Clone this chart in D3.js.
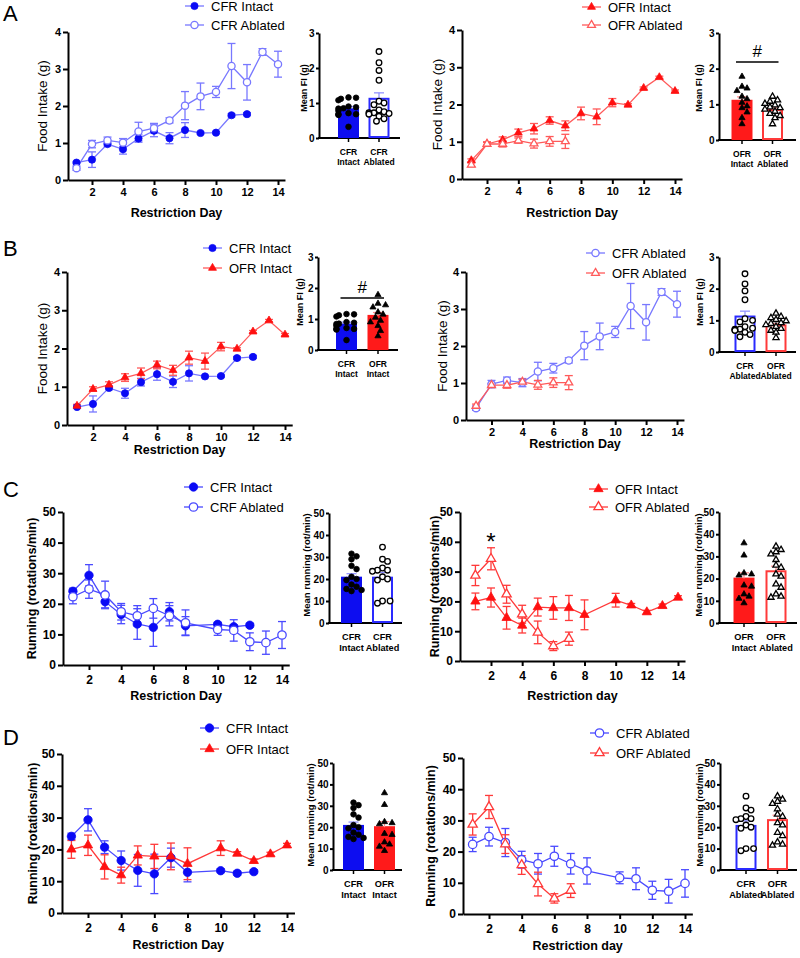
<!DOCTYPE html>
<html><head><meta charset="utf-8">
<script src="https://cdn.jsdelivr.net/npm/d3@7"></script>
<style>body{margin:0;background:#fff} svg{display:block} text{font-family:'Liberation Sans',Arial,sans-serif}</style>
</head><body><svg id="c" width="800" height="958"></svg>
<script>
// ---------------- DATA ----------------
const xTickDays = [2,4,6,8,10,12,14];
const foodTicks = [0,1,2,3,4];
const fiTicks = [0,1,2,3];
const runTicks = [0,10,20,30,40,50];

const daysFood12 = [1,2,3,4,5,6,7,8,9,10,11,12];
const daysFood14 = [1,2,3,4,5,6,7,8,9,10,11,12,13,14];
const daysFood7 = [1,2,3,4,5,6,7];
const daysRun12 = [1,2,3,4,5,6,7,8,10,11,12];
const daysRun14 = [1,2,3,4,5,6,7,8,10,11,12,13,14];
const daysRun7 = [1,2,3,4,5,6,7];

const foodCfrIntact = [0.47,0.55,0.97,0.83,1.12,1.33,1.13,1.35,1.27,1.28,1.75,1.78];
const foodCfrIntactErr = [0.03,0.21,0.05,0.13,0.10,0.16,0.15,0.20,0.03,0.03,0.04,0.04];
const foodCfrAblated = [0.32,0.97,1.07,1.01,1.31,1.40,1.61,2.01,2.26,2.38,3.08,2.64,3.46,3.13];
const foodCfrAblatedErr = [0.06,0.10,0.09,0.11,0.25,0.13,0.07,0.38,0.36,0.15,0.61,0.48,0.09,0.35];
const foodOfrIntact = [0.50,0.94,1.05,1.24,1.35,1.57,1.43,1.76,1.67,2.05,1.99,2.44,2.73,2.36];
const foodOfrIntactErr = [0.04,0.06,0.08,0.10,0.14,0.10,0.13,0.17,0.21,0.11,0.03,0.03,0.03,0.03];
const foodOfrAblated = [0.38,0.94,0.94,1.03,0.95,1.01,1.01];
const foodOfrAblatedErr = [0.05,0.04,0.08,0.07,0.12,0.13,0.19];

const runCfrIntact = [24.1,29.3,20.7,16.5,13.4,12.3,17.4,12.8,13.3,12.5,13.0];
const runCfrIntactErr = [1.0,3.5,2.0,3.0,5.0,6.2,3.0,3.0,0.6,0.6,0.6];
const runCfrAblated = [22.3,24.8,22.9,17.4,16.1,18.5,16.1,13.8,11.6,11.3,7.6,7.3,9.8];
const runCfrAblatedErr = [2.3,3.0,4.5,2.7,3.3,3.2,3.3,4.2,1.9,3.5,2.9,3.8,4.4];
const runOfrIntact = [20.0,21.3,14.5,11.9,18.1,17.8,17.8,15.5,20.4,18.7,16.4,18.5,21.3];
const runOfrIntactErr = [2.8,3.2,3.8,2.5,3.0,3.8,4.2,5.0,2.3,0.6,0.6,0.6,0.6];
const runOfrAblated = [28.7,34.3,22.4,15.7,9.6,5.0,7.5];
const runOfrAblatedErr = [3.4,3.7,3.0,3.0,3.8,1.5,2.2];

// bar summaries (mean, SEM) and individual animals
const fiMeans = {cfrIntact:0.82, cfrAblated:1.12, ofrIntact:1.10, ofrAblated:0.84};
const fiErrs = {cfrIntact:0.08, cfrAblated:0.17, ofrIntact:0.11, ofrAblated:0.06};
const fiCfrIntactPts = [1.16,1.15,1.12,1.08,0.90,0.88,0.85,0.84,0.78,0.71,0.68,0.68,0.66,0.32];
const fiCfrAblatedPts = [2.47,2.15,1.93,1.65,1.05,1.00,0.95,0.80,0.75,0.72,0.72,0.70,0.68,0.62,0.55,0.48];
const fiOfrIntactPts = [1.78,1.50,1.45,1.38,1.22,1.15,1.05,0.95,0.90,0.78,0.62,0.45];
const fiOfrAblatedPts = [1.22,1.12,1.08,1.02,0.98,0.92,0.90,0.86,0.80,0.74,0.68,0.62,0.45];

const runMeans = {cfrIntact:20.6, cfrAblated:20.6, ofrIntact:20.0, ofrAblated:23.3};
const runErrs = {cfrIntact:1.8, cfrAblated:2.4, ofrIntact:2.6, ofrAblated:2.3};
const runCfrIntactPts = [31.5,30.3,29.0,26.0,24.5,21.0,20.0,19.5,17.5,16.5,15.5,15.0,14.5];
const runCfrAblatedPts = [34.5,29.0,28.0,25.0,24.0,24.0,23.5,21.0,20.0,19.5,10.0,10.0,9.0];
const runOfrIntactPts = [36.0,30.5,22.5,22.0,21.5,17.0,16.5,13.0,12.0,11.0,9.0];
const runOfrAblatedPts = [34.5,33.0,32.0,31.0,28.5,26.0,25.0,22.0,21.0,17.5,16.0,13.0,12.0,11.5];

// ---------------- STYLE ----------------
const C = {
  blueFill:'#0a0af5', blueLine:'#7878ff', blueLine2:'#4a4aff',
  redFill:'#ff1010', redLine:'#ff5a5a', redLine2:'#ff3a3a',
  barBlue:'#0d0df0', barRed:'#ff1a1a'
};
const svg = d3.select('#c');
const fmt = d3.format('d');

function marker(g, type, filled, color, cx, cy, sz){
  if(type==='circle'){
    g.append('circle').attr('cx',cx).attr('cy',cy).attr('r',sz)
     .attr('fill',filled?color:'#fff').attr('stroke',color).attr('stroke-width',filled?0.8:1.3);
  } else {
    const area = (2.2*sz)*(2.2*sz)*Math.sqrt(3)/4;
    g.append('path').attr('transform',`translate(${cx},${cy})`)
     .attr('d', d3.symbol(d3.symbolTriangle, area)())
     .attr('fill',filled?color:'#fff').attr('stroke',color).attr('stroke-width',filled?0.8:1.3);
  }
}

function styleAxis(sel, fs){
  sel.selectAll('path,line').attr('stroke','#000').attr('stroke-width',2);
  sel.selectAll('text').attr('font-size',fs).attr('font-weight','bold').attr('fill','#000')
     .attr('font-family',"'Liberation Sans',Arial,sans-serif");
}

function lineChart(o){
  const g = svg.append('g');
  const x = d3.scaleLinear().domain([2,14]).range([o.d2,o.d14]);
  const y = d3.scaleLinear().domain([0,o.yMax]).range([o.y0,o.yTop]);
  const xa = d3.scaleLinear().domain([x.invert(o.ax),14.45]).range([o.ax,x(14.45)]);
  g.append('g').attr('transform',`translate(0,${o.y0})`)
   .call(d3.axisBottom(xa).tickValues(xTickDays).tickFormat(fmt).tickSize(5).tickSizeOuter(0).tickPadding(o.xpad))
   .call(styleAxis,o.fs);
  g.append('g').attr('transform',`translate(${o.ax},0)`)
   .call(d3.axisLeft(y).tickValues(o.yTicks).tickFormat(fmt).tickSize(5).tickSizeOuter(0).tickPadding(2))
   .call(styleAxis,o.fs);
  const lg = g.append('g'), mg = g.append('g');
  o.series.forEach(s=>{
    const pts = s.days.map((d,i)=>({d, m:s.mean[i], e:s.err[i]}));
    const eg = lg.append('g').attr('stroke',s.line).attr('stroke-width',1.3).attr('fill','none');
    pts.forEach(p=>{
      const cx=x(p.d), y1=y(p.m+p.e), y2=y(p.m-p.e);
      eg.append('line').attr('x1',cx).attr('x2',cx).attr('y1',y1).attr('y2',y2);
      [y1,y2].forEach(yy=>eg.append('line').attr('x1',cx-4).attr('x2',cx+4).attr('y1',yy).attr('y2',yy));
    });
    lg.append('path').datum(pts).attr('fill','none').attr('stroke',s.line).attr('stroke-width',1.3)
      .attr('d',d3.line().x(p=>x(p.d)).y(p=>y(p.m)));
    pts.forEach(p=>marker(mg,s.shape,s.filled,s.filled?s.fill:s.line,x(p.d),y(p.m),o.ms));
  });
  // legend
  o.series.forEach((s,i)=>{
    const ly = o.leg.y + i*o.leg.dy;
    g.append('line').attr('x1',o.leg.x).attr('x2',o.leg.x+19).attr('y1',ly).attr('y2',ly)
     .attr('stroke',s.line).attr('stroke-width',1.3);
    marker(g,s.shape,s.filled,s.filled?s.fill:s.line,o.leg.x+9.5,ly,o.ms);
    g.append('text').attr('x',o.leg.x+26).attr('y',ly).attr('dy','0.36em')
     .attr('font-size',13).text(s.label);
  });
  g.append('text').attr('transform',`translate(${o.ytX},${(o.y0+o.yTop)/2}) rotate(-90)`)
   .attr('text-anchor','middle').attr('dy','0.35em').attr('font-size',o.ytFs).attr('font-weight',o.ytW)
   .text(o.ytitle);
  g.append('text').attr('x',(o.ax+x(14.45))/2).attr('y',o.xtY).attr('text-anchor','middle')
   .attr('font-size',12.5).attr('font-weight','bold').text(o.xtitle);
  if(o.star){
    g.append('text').attr('x',x(o.star.day)).attr('y',y(o.star.val)).attr('text-anchor','middle')
     .attr('font-size',24).text('*');
  }
}

function swarm(vals, y, r, maxOff){
  const res = new Array(vals.length);
  const placed = [];
  const order = vals.map((v,i)=>i).sort((a,b)=>vals[b]-vals[a]);
  order.forEach(i=>{
    const py = y(vals[i]);
    let off = 0;
    for(let k=0;k<30;k++){
      const c = (k%2?1:-1)*Math.ceil(k/2)*r*0.9;
      if(Math.abs(c)>maxOff) continue;
      if(placed.every(p=>Math.hypot(p.x-c,p.y-py)>=2*r*0.95)){ off=c; break; }
      off = c;
    }
    placed.push({x:off,y:py});
    res[i]=off;
  });
  return res;
}

function barChart(o){
  const g = svg.append('g');
  const y = d3.scaleLinear().domain([0,o.yMax]).range([o.y0,o.yTop]);
  const x = d3.scalePoint().domain(o.bars.map(b=>b.key)).range([o.c1,o.c2]);
  const bw = o.bw;
  g.append('g').attr('transform',`translate(${o.ax},0)`)
   .call(d3.axisLeft(y).tickValues(o.yTicks).tickFormat(fmt).tickSize(3).tickSizeOuter(0).tickPadding(1.5))
   .call(styleAxis,o.fs);
  g.append('line').attr('x1',o.ax-1).attr('x2',o.xEnd).attr('y1',o.y0).attr('y2',o.y0)
   .attr('stroke','#000').attr('stroke-width',2);
  o.bars.forEach(b=>{
    const cx = x(b.key);
    g.append('line').attr('x1',cx).attr('x2',cx).attr('y1',o.y0).attr('y2',o.y0+4)
     .attr('stroke','#000').attr('stroke-width',1.5);
    g.append('rect').attr('x',cx-bw/2+1).attr('y',y(b.mean)).attr('width',bw-2)
     .attr('height',o.y0-1-y(b.mean)).attr('fill',b.filled?b.color:'#fff')
     .attr('stroke',b.color).attr('stroke-width',2);
    const eTop = y(b.mean+b.err);
    const ec = b.errColor;
    g.append('line').attr('x1',cx).attr('x2',cx).attr('y1',y(b.mean)).attr('y2',eTop)
     .attr('stroke',ec).attr('stroke-width',1.2);
    g.append('line').attr('x1',cx-5).attr('x2',cx+5).attr('y1',eTop).attr('y2',eTop)
     .attr('stroke',ec).attr('stroke-width',1.2);
    const offs = swarm(b.pts,y,o.pr,bw/2);
    b.pts.forEach((v,i)=>marker(g,b.shape,b.ptFilled,'#000',cx+offs[i],y(v),o.pr));
    b.label.forEach((t,i)=>g.append('text').attr('x',cx).attr('y',o.y0+o.labY+i*o.labDy)
      .attr('text-anchor','middle').attr('font-size',o.labFs).attr('font-weight','bold').text(t));
  });
  g.append('text').attr('transform',`translate(${o.ytX},${o.ytY}) rotate(-90)`)
   .attr('text-anchor','middle').attr('dy','0.35em').attr('font-size',o.ytFs).attr('font-weight','bold')
   .text(o.ytitle);
  if(o.sig){
    const x1 = x(o.bars[0].key)-6, x2 = x(o.bars[1].key)+6;
    g.append('line').attr('x1',x1).attr('x2',x2).attr('y1',o.sig.y).attr('y2',o.sig.y)
     .attr('stroke','#000').attr('stroke-width',1.6);
    g.append('text').attr('x',(x1+x2)/2).attr('y',o.sig.y-5).attr('text-anchor','middle')
     .attr('font-size',17).text('#');
  }
}

function letter(t,x,y){ svg.append('text').attr('x',x).attr('y',y).attr('font-size',22).text(t); }

// ---------------- SERIES DEFINITIONS ----------------
const sFoodCfrI = {label:'CFR Intact', days:daysFood12, mean:foodCfrIntact, err:foodCfrIntactErr, shape:'circle', filled:true, fill:C.blueFill, line:C.blueLine};
const sFoodCfrA = {label:'CFR Ablated', days:daysFood14, mean:foodCfrAblated, err:foodCfrAblatedErr, shape:'circle', filled:false, line:C.blueLine};
const sFoodOfrI = {label:'OFR Intact', days:daysFood14, mean:foodOfrIntact, err:foodOfrIntactErr, shape:'tri', filled:true, fill:C.redFill, line:C.redLine};
const sFoodOfrA = {label:'OFR Ablated', days:daysFood7, mean:foodOfrAblated, err:foodOfrAblatedErr, shape:'tri', filled:false, line:C.redLine};
const sRunCfrI = {label:'CFR Intact', days:daysRun12, mean:runCfrIntact, err:runCfrIntactErr, shape:'circle', filled:true, fill:C.blueFill, line:C.blueLine2};
const sRunCfrA = {label:'CRF Ablated', days:daysRun14, mean:runCfrAblated, err:runCfrAblatedErr, shape:'circle', filled:false, line:C.blueLine2};
const sRunOfrI = {label:'OFR Intact', days:daysRun14, mean:runOfrIntact, err:runOfrIntactErr, shape:'tri', filled:true, fill:C.redFill, line:C.redLine2};
const sRunOfrA = {label:'OFR Ablated', days:daysRun7, mean:runOfrAblated, err:runOfrAblatedErr, shape:'tri', filled:false, line:C.redLine2};

const bFiCfrI = {label:['CFR','Intact'], mean:fiMeans.cfrIntact, err:fiErrs.cfrIntact, pts:fiCfrIntactPts, filled:true, color:C.barBlue, errColor:'#8a8aff', shape:'circle', ptFilled:true};
const bFiCfrA = {label:['CFR','Ablated'], mean:fiMeans.cfrAblated, err:fiErrs.cfrAblated, pts:fiCfrAblatedPts, filled:false, color:'#2a2aff', errColor:'#8a8aff', shape:'circle', ptFilled:false};
const bFiOfrI = {label:['OFR','Intact'], mean:fiMeans.ofrIntact, err:fiErrs.ofrIntact, pts:fiOfrIntactPts, filled:true, color:C.barRed, errColor:'#ff8a8a', shape:'tri', ptFilled:true};
const bFiOfrA = {label:['OFR','Ablated'], mean:fiMeans.ofrAblated, err:fiErrs.ofrAblated, pts:fiOfrAblatedPts, filled:false, color:'#ff3a3a', errColor:'#ff8a8a', shape:'tri', ptFilled:false};
const bRunCfrI = {label:['CFR','Intact'], mean:runMeans.cfrIntact, err:runErrs.cfrIntact, pts:runCfrIntactPts, filled:true, color:C.barBlue, errColor:'#8a8aff', shape:'circle', ptFilled:true};
const bRunCfrA = {label:['CFR','Ablated'], mean:runMeans.cfrAblated, err:runErrs.cfrAblated, pts:runCfrAblatedPts, filled:false, color:'#2a2aff', errColor:'#8a8aff', shape:'circle', ptFilled:false};
const bRunOfrI = {label:['OFR','Intact'], mean:runMeans.ofrIntact, err:runErrs.ofrIntact, pts:runOfrIntactPts, filled:true, color:C.barRed, errColor:'#ff8a8a', shape:'tri', ptFilled:true};
const bRunOfrA = {label:['OFR','Ablated'], mean:runMeans.ofrAblated, err:runErrs.ofrAblated, pts:runOfrAblatedPts, filled:false, color:'#ff3a3a', errColor:'#ff8a8a', shape:'tri', ptFilled:false};
const pair = (a,b)=>[{...a,key:'a'},{...b,key:'b'}];

// ---------------- PANELS ----------------
const food = {yMax:4, yTicks:foodTicks, fs:11, xpad:3, ms:3.6, ytitle:'Food Intake (g)', ytFs:13.5, ytW:'normal', xtitle:'Restriction Day'};
const run = {yMax:50, yTicks:runTicks, fs:12, xpad:5, ms:4.2, ytitle:'Running (rotations/min)', ytFs:12.5, ytW:'bold', xtitle:'Restriction Day'};
const fiBar = {yMax:3, yTicks:fiTicks, fs:10, bw:21, pr:2.8, ytitle:'Mean FI (g)', ytFs:9, labFs:8.5, labY:17, labDy:10};
const runBar = {yMax:50, yTicks:runTicks, fs:10, bw:21, pr:2.8, ytitle:'Mean running (rot/min)', ytFs:9.5, labFs:9.2, labY:17, labDy:11};

letter('A',3,21);
lineChart({...food, ax:68, y0:180, yTop:32, d2:92, d14:278, ytX:42, xtY:217, series:[sFoodCfrI,sFoodCfrA], leg:{x:185,y:6,dy:19}});
barChart({...fiBar, ax:319, y0:138, yTop:33, c1:348.5, c2:379, xEnd:400, ytX:304, ytY:88, bars:pair(bFiCfrI,bFiCfrA)});
lineChart({...food, ax:462, y0:179, yTop:30, d2:487, d14:675, ytX:437, xtY:217, series:[sFoodOfrI,sFoodOfrA], leg:{x:582,y:7,dy:18}});
barChart({...fiBar, ax:719, y0:140, yTop:33, c1:742, c2:772.5, xEnd:796, ytX:699, ytY:88, bars:pair(bFiOfrI,bFiOfrA), sig:{y:62}});

letter('B',3,256);
lineChart({...food, ax:67, y0:425, yTop:272, d2:93, d14:285, ytX:42, xtY:454, series:[sFoodCfrI,sFoodOfrI], leg:{x:203,y:248,dy:20}});
barChart({...fiBar, ax:318, y0:350, yTop:257, c1:346.5, c2:378, xEnd:398, ytX:300, ytY:302, bars:pair(bFiCfrI,bFiOfrI), sig:{y:298}});
lineChart({...food, ax:466, y0:420, yTop:272, d2:491.5, d14:677, ytX:442, xtY:448, series:[sFoodCfrA,sFoodOfrA], leg:{x:586,y:253,dy:20}});
barChart({...fiBar, ax:719, y0:352, yTop:257, c1:745, c2:776, xEnd:796, ytX:700, ytY:302, bars:pair(bFiCfrA,bFiOfrA)});

letter('C',3,497);
lineChart({...run, ax:63, y0:665, yTop:512, d2:89, d14:282, ytX:32, xtY:700, series:[sRunCfrI,sRunCfrA], leg:{x:184,y:487,dy:20}});
barChart({...runBar, ax:329, y0:623, yTop:513, c1:351.5, c2:382.5, xEnd:402, ytX:307, ytY:565, bars:pair(bRunCfrI,bRunCfrA)});
lineChart({...run, ax:460, y0:661, yTop:512, d2:491, d14:678, ytX:435, xtY:700, xtitle:'Restriction day', series:[sRunOfrI,sRunOfrA], leg:{x:589,y:489,dy:18}, star:{day:2,val:37.2}});
barChart({...runBar, ax:719, y0:623, yTop:512, c1:744, c2:776, xEnd:797, ytX:699, ytY:565, bars:pair(bRunOfrI,bRunOfrA)});

letter('D',3,745);
lineChart({...run, ax:62, y0:913, yTop:754, d2:88, d14:287, ytX:33, xtY:949, series:[sRunCfrI,sRunOfrI], leg:{x:200,y:728,dy:21}});
barChart({...runBar, ax:333, y0:870, yTop:763, c1:353.5, c2:384.5, xEnd:402, ytX:311, ytY:815, bars:pair(bRunCfrI,bRunOfrI)});
lineChart({...run, ax:463, y0:914, yTop:758, d2:489, d14:685, ytX:431, xtY:950, xtitle:'Restriction day', series:[{...sRunCfrA,label:'CFR Ablated'},{...sRunOfrA,label:'ORF Ablated'}], leg:{x:590,y:733,dy:20}});
barChart({...runBar, ax:720, y0:870, yTop:763, c1:746, c2:777.5, xEnd:797, ytX:700, ytY:815, bars:pair(bRunCfrA,bRunOfrA)});
</script></body></html>
